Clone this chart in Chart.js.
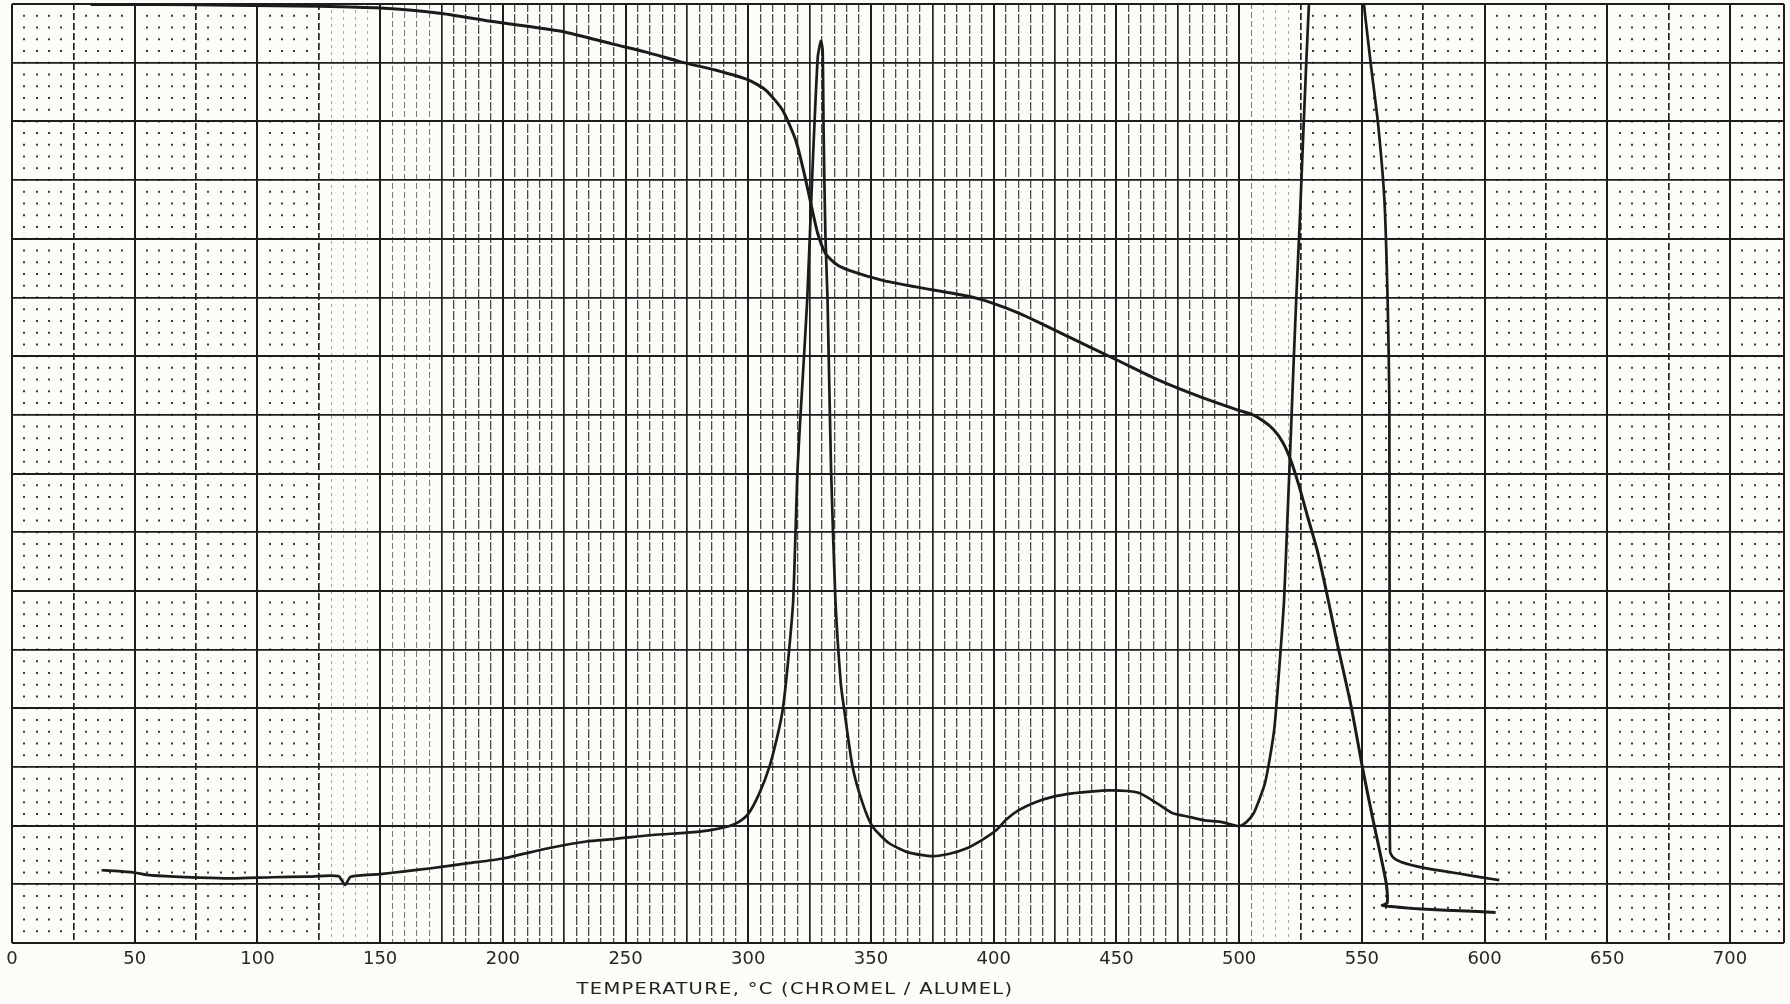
<!DOCTYPE html>
<html>
<head>
<meta charset="utf-8">
<script src="https://cdn.jsdelivr.net/npm/chart.js@4.4.1/dist/chart.umd.min.js"></script>
<style>
  html, body { margin: 0; padding: 0; background: #fcfcf9; }
  #wrap { position: relative; width: 1790px; height: 1004px; }
  #xtitle {
    position: absolute; left: 0; top: 980px; width: 1590px;
    text-align: center; font: 15px "DejaVu Sans", sans-serif;
    letter-spacing: 1px; color: #222;
    transform: scaleX(1.3); transform-origin: 795px 0;
  }
</style>
</head>
<body>
<div id="wrap">
  <canvas id="chart" width="1790" height="1004"></canvas>
  <div id="xtitle">TEMPERATURE, °C (CHROMEL / ALUMEL)</div>
</div>
<script>
// x axis: temperature, °C ; y axis: chart divisions (16 major, no labels)
const xTickLabels = [0, 50, 100, 150, 200, 250, 300, 350, 400, 450, 500, 550, 600, 650, 700];

// DTA trace (starts near the bottom, two exothermic peaks)
const dtaTemp = [
  36.5, 42, 50, 55, 66, 80, 90, 106, 120, 133,
  135.7, 138, 150, 160, 170, 186, 200, 218, 234, 245,
  261, 275, 284, 292, 296, 300, 304.5, 308.6, 312, 314,
  316, 318.3, 320.1, 322, 324, 326.2, 328.3, 329.6, 330.3, 330.7,
  331.4, 332.3, 333.7, 335.5, 337.7, 339.1, 342.5, 346.6, 350.7, 357.4,
  365.6, 375, 382, 388.8, 395, 401, 405, 410, 417, 424,
  432, 439.4, 447, 454.6, 459, 462.3, 468, 473, 479.6, 486,
  493, 500, 503, 505.9, 508, 510.5, 512.5, 514.4, 516.4, 518.3,
  519.7, 521, 522.3, 523.5, 524.8, 526.3, 528.5, 531, 548, 550.7,
  553.8, 556.6, 559.2, 560.5, 561.2, 561.3, 561.5, 563, 566, 572,
  578, 590, 600, 606
];
const dtaSignal = [
  12.4, 12.3, 12.0, 11.6, 11.3, 11.1, 11.0, 11.2, 11.3, 11.4,
  9.9, 11.3, 11.75, 12.2, 12.7, 13.6, 14.4, 16.1, 17.3, 17.7,
  18.4, 18.8, 19.2, 19.9, 20.6, 22.0, 25.5, 30.0, 35.5, 39.7,
  47.1, 58.4, 81.1, 95, 109.5, 132.2, 150.9, 153.7, 152.1, 137.9,
  120.9, 109.5, 81.1, 58.4, 44.2, 39.7, 30.0, 23.8, 19.8, 17.0,
  15.4, 14.8, 15.2, 16.1, 17.5, 19.2, 21.0, 22.6, 24.0, 24.9,
  25.5, 25.8, 26.0, 25.9, 25.6, 24.9, 23.4, 22.1, 21.5, 20.9,
  20.6, 19.9, 20.6, 22.1, 24.2, 27.2, 31.5, 36.8, 47.1, 58.4,
  72.6, 86, 100, 112, 124, 139.6, 160.6, 175, 175, 160.6,
  149.2, 139.6, 126.5, 109.5, 92.5, 40, 15.5, 14.5, 13.8, 13.1,
  12.6, 11.8, 11.1, 10.7
];

// TG trace (starts along the top edge and steps down)
const tgaTemp = [
  32, 60, 90, 125, 150, 175, 196, 210, 225.6, 244.5,
  258.4, 272.8, 286.9, 300.4, 307.2, 314, 319.4, 322.8, 325.5, 328.3,
  331.6, 336, 341.1, 354.7, 368.3, 388.7, 396.2, 410.9, 431, 450.4,
  467.2, 484.5, 499.5, 505, 510, 514, 517.8, 521, 524.4, 528,
  532, 536, 540, 545.4, 550.7, 554.6, 557.5, 559.9, 560.3, 558.3,
  562, 570, 578.3, 590, 604.5
];
const tgaSignal = [
  159.9, 159.9, 159.8, 159.6, 159.3, 158.4, 157.0, 156.2, 155.2, 153.2,
  151.8, 150.1, 148.7, 147.0, 145.3, 141.9, 136.7, 131.1, 126.0, 120.9,
  117.4, 115.6, 114.6, 112.9, 111.8, 110.3, 109.5, 107.2, 103.2, 99.3,
  95.9, 93.0, 90.8, 90.1, 88.9, 87.5, 85.3, 82.3, 77.9, 72.5,
  66.6, 59.0, 51.0, 40.8, 28.9, 20.9, 15.2, 10.2, 6.8, 6.4,
  6.2, 5.9, 5.7, 5.5, 5.2
];

const X_MIN = 0, X_MAX = 722;
const DENSE_FROM = 125, DENSE_TO = 525;

const toPoints = (xs, ys) => xs.map((x, i) => ({ x: x, y: ys[i] }));

// grid style for each 5-degree line of the recorder paper
const isDense = v => v > DENSE_FROM && v < DENSE_TO;
const denseLevel = v => (v < 150 || v > 505) ? 0 : (v < 175 || v > 495) ? 1 : 2;
const gridColor = (ctx) => {
  const v = ctx.tick ? ctx.tick.value : 0;
  if (v % 50 === 0 || v === X_MAX) return '#1d1d1d';
  if (v % 25 === 0) return '#232323';
  if (isDense(v)) return ['rgba(0,0,0,0.32)', 'rgba(0,0,0,0.5)', 'rgba(0,0,0,0.7)'][denseLevel(v)];
  return '#3a3a3a';
};
const gridWidth = (ctx) => {
  const v = ctx.tick ? ctx.tick.value : 0;
  if (v % 50 === 0 || v === X_MAX) return 2;
  if (v % 25 === 0) return 1.7;
  if (isDense(v)) return denseLevel(v) === 2 ? 1.3 : 1.1;
  return 2;
};
const gridDash = (ctx) => {
  if (!ctx.tick) return [];
  const v = ctx.tick.value;
  if (v % 50 === 0 || v === X_MAX) return [];
  if (v % 25 === 0) return isDense(v) ? [] : [7, 3];
  if (isDense(v)) return [[3, 4], [6, 3], [9, 2]][denseLevel(v)];
  const area = ctx.chart.chartArea;
  const sub = area ? (area.bottom - area.top) / 80 : 11.74;
  return [2, sub - 2];
};

new Chart(document.getElementById('chart'), {
  type: 'line',
  data: {
    datasets: [
      {
        label: 'TG',
        data: toPoints(tgaTemp, tgaSignal),
        borderColor: '#1b1b1b',
        borderWidth: 3,
        pointRadius: 0,
        tension: 0.2,
      },
      {
        label: 'DTA',
        data: toPoints(dtaTemp, dtaSignal),
        borderColor: '#1b1b1b',
        borderWidth: 2.7,
        pointRadius: 0,
        tension: 0.2,
      },
    ],
  },
  options: {
    responsive: false,
    animation: false,
    devicePixelRatio: 1,
    layout: { padding: { left: 12, right: 3, top: 4, bottom: 0 } },
    plugins: { legend: { display: false }, tooltip: { enabled: false } },
    scales: {
      x: {
        type: 'linear',
        min: X_MIN,
        max: X_MAX,
        afterBuildTicks: (scale) => {
          const ticks = [];
          for (let v = X_MIN; v <= 720; v += 5) ticks.push({ value: v });
          ticks.push({ value: X_MAX });
          scale.ticks = ticks;
        },
        afterFit: (scale) => { scale.height = 61; },
        grid: { color: gridColor, lineWidth: gridWidth, drawTicks: false },
        border: { display: false, dash: gridDash, dashOffset: 1 },
        ticks: {
          autoSkip: false,
          maxRotation: 0,
          padding: 6,
          color: '#262626',
          font: { family: 'DejaVu Sans', size: 18 },
          callback: (value) => xTickLabels.includes(value) ? String(value) : '',
        },
      },
      y: {
        type: 'linear',
        min: 0,
        max: 160,
        afterFit: (scale) => { scale.width = 0; },
        grid: {
          color: '#1d1d1d',
          lineWidth: (ctx) => (ctx.tick && ctx.tick.value % 20 === 0) ? 2 : 1.7,
          drawTicks: false,
        },
        border: { display: false },
        ticks: { display: false, stepSize: 10 },
      },
    },
  },
});
</script>
</body>
</html>
